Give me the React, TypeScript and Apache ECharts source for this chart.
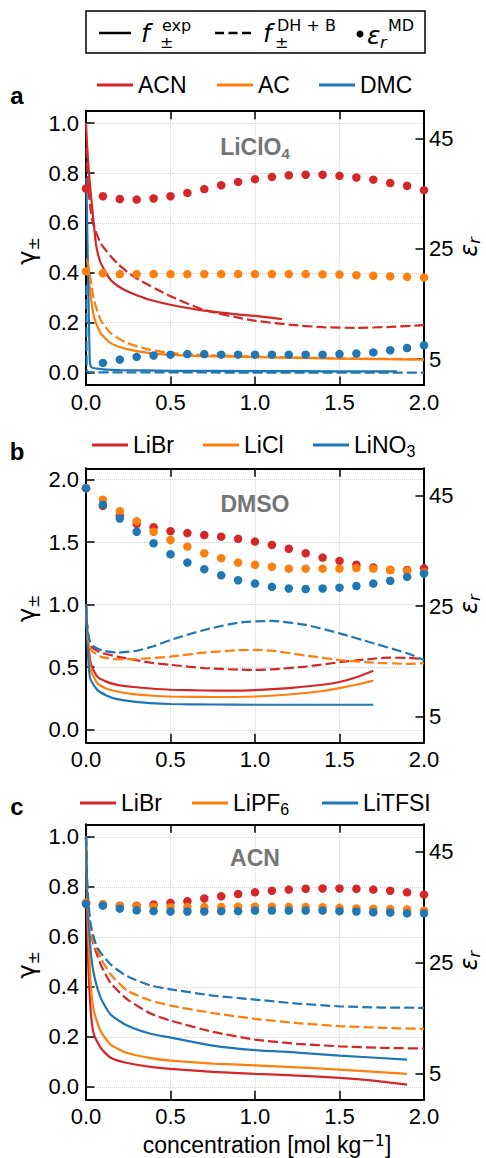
import React, { useEffect, useRef } from 'react';
import * as echarts from 'echarts';

const RED = '#d62728';
const ORANGE = '#ff7f0e';
const BLUE = '#1f77b4';
const COLORS = [RED, ORANGE, BLUE];
const SANS = "'Liberation Sans', Arial, Helvetica, sans-serif";
const MATH = "'DejaVu Sans', sans-serif";

// shared axes
const xTicks = [0, 0.5, 1.0, 1.5, 2.0];
const gammaTicksAC = [0, 0.2, 0.4, 0.6, 0.8, 1.0];
const gammaTicksB = [0, 0.5, 1.0, 1.5, 2.0];
const epsTicks = [5, 25, 45];
const epsX = [0, 0.1, 0.2, 0.3, 0.4, 0.5, 0.6, 0.7, 0.8, 0.9, 1.0, 1.1, 1.2, 1.3, 1.4, 1.5, 1.6, 1.7, 1.8, 1.9, 2.0];

// ---------- panel a : LiClO4 ----------
const aNames = ['ACN', 'AC', 'DMC'];
const aEpsACN = [35.9, 34.5, 34.0, 33.9, 34.1, 34.5, 35.1, 35.8, 36.5, 37.1, 37.6, 38.0, 38.3, 38.4, 38.4, 38.2, 37.9, 37.5, 36.9, 36.4, 35.6];
const aEpsAC = [20.9, 20.55, 20.4, 20.4, 20.4, 20.4, 20.4, 20.4, 20.4, 20.4, 20.4, 20.4, 20.4, 20.4, 20.35, 20.3, 20.2, 20.1, 20.0, 19.9, 19.8];
const aEpsDMC = [null, 4.3, 4.9, 5.4, 5.65, 5.8, 5.9, 5.9, 5.8, 5.8, 5.8, 5.8, 5.8, 5.8, 5.8, 5.9, 6.0, 6.2, 6.6, 7.0, 7.5];
const aExpACN = [[0, 1.0], [0.005, 0.93], [0.015, 0.82], [0.028, 0.72], [0.047, 0.59], [0.06, 0.51], [0.087, 0.44], [0.146, 0.371], [0.2, 0.342], [0.244, 0.326], [0.3, 0.31], [0.382, 0.291], [0.5, 0.272], [0.7, 0.248], [0.93, 0.231], [1.0, 0.227], [1.16, 0.214]];
const aExpAC = [[0.006, 0.46], [0.012, 0.42], [0.028, 0.304], [0.047, 0.224], [0.087, 0.158], [0.146, 0.118], [0.244, 0.094], [0.382, 0.078], [0.5, 0.071], [0.7, 0.066], [1.0, 0.062], [1.5, 0.056], [2.0, 0.052]];
const aExpDMC = [[0.002, 0.78], [0.012, 0.4], [0.022, 0.05], [0.03, 0.022], [0.05, 0.017], [0.1, 0.013], [0.2, 0.01], [0.5, 0.007], [1.0, 0.006], [1.5, 0.005], [1.84, 0.005]];
const aDhACN = [[0.003, 0.9], [0.012, 0.75], [0.037, 0.611], [0.087, 0.518], [0.185, 0.438], [0.284, 0.384], [0.5, 0.306], [0.7, 0.251], [0.97, 0.211], [1.2, 0.192], [1.4, 0.182], [1.6, 0.179], [1.8, 0.183], [2.0, 0.19]];
const aDhAC = [[0.008, 0.45], [0.028, 0.371], [0.047, 0.291], [0.087, 0.211], [0.146, 0.158], [0.244, 0.118], [0.382, 0.091], [0.5, 0.078], [0.7, 0.07], [1.0, 0.064], [1.5, 0.057], [2.0, 0.053]];
const aDhDMC = [[0.002, 0.35], [0.005, 0.005], [0.05, 0.001], [1.0, 0.0], [2.0, 0.0]];

// ---------- panel b : DMSO ----------
const bNames = ['LiBr', 'LiCl', 'LiNO3'];
const bEpsLiBr = [46.4, 43.2, 41.4, 39.9, 39.3, 38.6, 38.25, 37.9, 37.6, 37.2, 36.7, 36.1, 35.4, 34.6, 33.8, 33.2, 32.5, 32.0, 31.55, 31.55, 31.85];
const bEpsLiCl = [46.4, 44.3, 42.2, 40.4, 38.5, 37.0, 35.8, 34.6, 33.7, 32.9, 32.5, 32.15, 31.8, 31.8, 31.8, 31.8, 31.9, 31.8, 31.6, 31.4, 31.1];
const bEpsLiNO3 = [46.4, 43.4, 40.9, 38.5, 36.4, 34.4, 32.9, 31.7, 30.6, 29.7, 29.1, 28.5, 28.2, 28.1, 28.2, 28.35, 28.65, 29.1, 29.6, 30.3, 30.9];
const bExpLiBr = [[0, 1.0], [0.01, 0.75], [0.028, 0.532], [0.067, 0.425], [0.12, 0.385], [0.185, 0.359], [0.28, 0.342], [0.382, 0.33], [0.5, 0.32], [0.7, 0.314], [0.85, 0.313], [1.0, 0.317], [1.2, 0.333], [1.4, 0.36], [1.5, 0.382], [1.6, 0.42], [1.7, 0.472]];
const bExpLiCl = [[0, 1.0], [0.01, 0.7], [0.028, 0.479], [0.067, 0.372], [0.12, 0.33], [0.185, 0.306], [0.28, 0.285], [0.382, 0.274], [0.5, 0.266], [0.75, 0.262], [1.0, 0.266], [1.2, 0.282], [1.4, 0.31], [1.5, 0.333], [1.6, 0.36], [1.7, 0.393]];
const bExpLiNO3 = [[0, 1.0], [0.008, 0.7], [0.02, 0.45], [0.028, 0.399], [0.067, 0.319], [0.12, 0.275], [0.185, 0.245], [0.28, 0.225], [0.382, 0.213], [0.5, 0.206], [0.75, 0.202], [1.0, 0.2], [1.4, 0.2], [1.7, 0.2]];
const bDhLiBr = [[0, 1.0], [0.01, 0.78], [0.03, 0.67], [0.087, 0.617], [0.185, 0.585], [0.382, 0.537], [0.5, 0.519], [0.7, 0.493], [0.9, 0.481], [1.0, 0.479], [1.1, 0.483], [1.3, 0.505], [1.5, 0.54], [1.7, 0.568], [1.8, 0.576], [1.9, 0.575], [2.0, 0.565]];
const bDhLiCl = [[0, 1.0], [0.01, 0.75], [0.03, 0.64], [0.087, 0.585], [0.185, 0.564], [0.3, 0.566], [0.5, 0.585], [0.7, 0.617], [0.9, 0.636], [1.0, 0.638], [1.1, 0.632], [1.3, 0.594], [1.5, 0.558], [1.7, 0.537], [1.9, 0.527], [2.0, 0.532]];
const bDhLiNO3 = [[0, 1.0], [0.005, 0.85], [0.02, 0.72], [0.047, 0.665], [0.1, 0.633], [0.185, 0.617], [0.3, 0.632], [0.4, 0.668], [0.5, 0.718], [0.7, 0.798], [0.9, 0.856], [1.1, 0.87], [1.3, 0.838], [1.5, 0.771], [1.7, 0.692], [1.9, 0.612], [2.0, 0.558]];

// ---------- panel c : ACN ----------
const cNames = ['LiBr', 'LiPF6', 'LiTFSI'];
const cEpsLiBr = [35.8, 35.5, 35.3, 35.3, 35.5, 35.8, 36.1, 36.6, 37.0, 37.4, 37.7, 38.0, 38.2, 38.35, 38.4, 38.4, 38.35, 38.2, 38.0, 37.7, 37.3];
const cEpsLiPF6 = [35.8, 35.55, 35.25, 35.2, 35.1, 35.05, 35.05, 35.05, 35.05, 35.1, 35.1, 35.1, 35.05, 35.05, 35.0, 34.9, 34.8, 34.75, 34.7, 34.6, 34.4];
const cEpsLiTFSI = [35.6, 35.3, 34.75, 34.45, 34.3, 34.25, 34.25, 34.25, 34.3, 34.3, 34.4, 34.4, 34.4, 34.4, 34.4, 34.3, 34.25, 34.1, 34.05, 33.9, 33.9];
const cExpLiBr = [[0, 1.0], [0.005, 0.75], [0.012, 0.516], [0.028, 0.302], [0.047, 0.209], [0.087, 0.156], [0.146, 0.116], [0.244, 0.095], [0.382, 0.08], [0.5, 0.072], [0.75, 0.06], [1.0, 0.052], [1.25, 0.045], [1.5, 0.036], [1.7, 0.025], [1.9, 0.009]];
const cExpLiPF6 = [[0, 1.0], [0.005, 0.8], [0.012, 0.649], [0.028, 0.409], [0.047, 0.302], [0.087, 0.222], [0.146, 0.169], [0.244, 0.135], [0.382, 0.115], [0.5, 0.105], [0.75, 0.093], [1.0, 0.086], [1.25, 0.078], [1.5, 0.069], [1.9, 0.052]];
const cExpLiTFSI = [[0, 1.0], [0.008, 0.75], [0.028, 0.542], [0.047, 0.449], [0.087, 0.356], [0.146, 0.289], [0.244, 0.245], [0.382, 0.212], [0.5, 0.197], [0.75, 0.165], [1.0, 0.147], [1.25, 0.137], [1.5, 0.125], [1.9, 0.109]];
const cDhLiBr = [[0, 1.0], [0.01, 0.75], [0.037, 0.589], [0.087, 0.489], [0.146, 0.415], [0.244, 0.35], [0.382, 0.293], [0.5, 0.265], [0.75, 0.22], [1.0, 0.189], [1.25, 0.172], [1.5, 0.162], [1.75, 0.156], [2.0, 0.153]];
const cDhLiPF6 = [[0, 1.0], [0.01, 0.75], [0.037, 0.596], [0.087, 0.516], [0.146, 0.449], [0.244, 0.385], [0.382, 0.345], [0.5, 0.325], [0.75, 0.295], [1.0, 0.272], [1.25, 0.255], [1.5, 0.243], [1.75, 0.236], [2.0, 0.232]];
const cDhLiTFSI = [[0, 1.0], [0.008, 0.8], [0.028, 0.649], [0.067, 0.556], [0.146, 0.489], [0.244, 0.442], [0.382, 0.405], [0.5, 0.39], [0.75, 0.365], [1.0, 0.349], [1.25, 0.333], [1.5, 0.322], [1.75, 0.317], [2.0, 0.316]];

const panels = [
  {
    top: 110.7, height: 274.3, gMin: -0.05, gMax: 1.05, gTicks: gammaTicksAC,
    names: aNames, exp: [aExpACN, aExpAC, aExpDMC], dh: [aDhACN, aDhAC, aDhDMC], eps: [aEpsACN, aEpsAC, aEpsDMC],
    legendLeft: [97, 217, 319], legendY: 85, title: '{b|LiClO}{s|4}', titleY: 147, letter: 'a', letterY: 95,
  },
  {
    top: 468.3, height: 274, gMin: -0.1, gMax: 2.09, gTicks: gammaTicksB,
    names: bNames, exp: [bExpLiBr, bExpLiCl, bExpLiNO3], dh: [bDhLiBr, bDhLiCl, bDhLiNO3], eps: [bEpsLiBr, bEpsLiCl, bEpsLiNO3],
    legendLeft: [92, 203, 313], legendY: 445, title: '{b|DMSO}', titleY: 503.5, letter: 'b', letterY: 451.6,
  },
  {
    top: 824.3, height: 275, gMin: -0.05, gMax: 1.05, gTicks: gammaTicksAC,
    names: cNames, exp: [cExpLiBr, cExpLiPF6, cExpLiTFSI], dh: [cDhLiBr, cDhLiPF6, cDhLiTFSI], eps: [cEpsLiBr, cEpsLiPF6, cEpsLiTFSI],
    legendLeft: [80, 192, 322], legendY: 803, title: '{b|ACN}', titleY: 858, letter: 'c', letterY: 806.6,
  },
];

const GRID_LEFT = 86;
const GRID_W = 338;
const EPS_MIN = 0.3;
const EPS_MAX = 50;

function legendFormatter(name: string) {
  if (name === 'LiNO3') return '{n|LiNO}{s|3}';
  if (name === 'LiPF6') return '{n|LiPF}{s|6}';
  return `{n|${name}}`;
}

function buildOption() {
  const grid: any[] = [];
  const xAxis: any[] = [];
  const yAxis: any[] = [];
  const series: any[] = [];
  const legend: any[] = [];
  const graphic: any[] = [];

  const axisLine = { show: true, onZero: false, lineStyle: { color: '#000', width: 2 } };
  const tickStyle = { color: '#000', width: 1.5 };
  const split = { show: true, lineStyle: { color: '#d4d4d4', type: 'dotted', width: 1 } };
  const labelFont = { fontSize: 22, fontFamily: SANS, color: '#000' };

  panels.forEach((p, i) => {
    grid.push({ left: GRID_LEFT, top: p.top, width: GRID_W, height: p.height });
    xAxis.push({
      gridIndex: i, type: 'value', min: 0, max: 2, interval: 0.5, position: 'bottom',
      axisLine, axisTick: { inside: true, length: 8.5, lineStyle: tickStyle },
      axisLabel: { ...labelFont, margin: 6, formatter: (v: number) => v.toFixed(1), customValues: xTicks },
      splitLine: split,
    });
    xAxis.push({
      gridIndex: i, type: 'value', min: 0, max: 2, interval: 0.5, position: 'top',
      axisLine, axisTick: { inside: true, length: 8.5, lineStyle: tickStyle },
      axisLabel: { show: false }, splitLine: { show: false },
    });
    yAxis.push({
      gridIndex: i, type: 'value', min: p.gMin, max: p.gMax, position: 'left',
      axisLine, axisTick: { inside: true, length: 8.5, lineStyle: tickStyle, customValues: p.gTicks },
      axisLabel: { ...labelFont, margin: 7, formatter: (v: number) => v.toFixed(1), customValues: p.gTicks },
      splitLine: split,
    });
    yAxis.push({
      gridIndex: i, type: 'value', min: EPS_MIN, max: EPS_MAX, position: 'right',
      axisLine, axisTick: { inside: true, length: 8.5, lineStyle: tickStyle, customValues: epsTicks },
      axisLabel: { ...labelFont, margin: 5, customValues: epsTicks },
      splitLine: { show: false },
    });

    p.names.forEach((name, k) => {
      series.push({
        type: 'line', name, xAxisIndex: 2 * i, yAxisIndex: 2 * i, data: p.exp[k],
        showSymbol: false, symbol: 'none', smooth: 0.2, z: 2,
        lineStyle: { color: COLORS[k], width: 2.2 }, itemStyle: { color: COLORS[k] },
      });
    });
    p.names.forEach((name, k) => {
      series.push({
        type: 'line', name: name + ' DH+B', xAxisIndex: 2 * i, yAxisIndex: 2 * i, data: p.dh[k],
        showSymbol: false, symbol: 'none', smooth: 0.2, z: 2,
        lineStyle: { color: COLORS[k], width: 2.2, type: [10, 4] }, itemStyle: { color: COLORS[k] },
      });
    });
    p.names.forEach((name, k) => {
      const pts = epsX.map((x, j) => [x, p.eps[k][j]]).filter((q) => q[1] != null);
      series.push({
        type: 'scatter', name: name + ' MD', xAxisIndex: 2 * i, yAxisIndex: 2 * i + 1, data: pts,
        symbolSize: 8.5, z: 3, itemStyle: { color: COLORS[k], opacity: 1 },
      });
    });

    p.names.forEach((name, k) => {
      legend.push({
        left: p.legendLeft[k], top: p.legendY - 14, padding: 0, orient: 'horizontal',
        itemWidth: 36, itemHeight: 3, icon: 'rect', selectedMode: false,
        data: [{ name, itemStyle: { color: COLORS[k] } }],
        formatter: legendFormatter,
        textStyle: {
          fontSize: 23, fontFamily: SANS, color: '#000', lineHeight: 28,
          rich: {
            n: { fontSize: 23, fontFamily: SANS, color: '#000', lineHeight: 28, verticalAlign: 'middle' },
            s: { fontSize: 16, fontFamily: SANS, color: '#000', lineHeight: 16, verticalAlign: 'bottom' },
          },
        },
      });
    });

    const cy = p.top + p.height / 2;
    graphic.push({
      type: 'text', x: 255, y: p.titleY, z: 10,
      style: {
        text: p.title, align: 'center', verticalAlign: 'middle',
        rich: {
          b: { fontSize: 23, fontWeight: 'bold', fontFamily: SANS, fill: '#757575', lineHeight: 28, verticalAlign: 'middle' },
          s: { fontSize: 15, fontWeight: 'bold', fontFamily: SANS, fill: '#757575', lineHeight: 21, verticalAlign: 'bottom' },
        },
      },
    });
    graphic.push({
      type: 'text', x: 17, y: p.letterY,
      style: { text: p.letter, align: 'center', verticalAlign: 'middle', fontSize: 24, fontWeight: 'bold', fontFamily: SANS, fill: '#000' },
    });
    graphic.push({
      type: 'text', x: 27, y: cy + 3, rotation: Math.PI / 2,
      style: {
        text: '{g|γ}{s|±}', align: 'center', verticalAlign: 'middle',
        rich: {
          g: { fontSize: 24, fontFamily: MATH, fill: '#000', lineHeight: 28, verticalAlign: 'middle' },
          s: { fontSize: 16, fontFamily: MATH, fill: '#000', lineHeight: 16, verticalAlign: 'bottom' },
        },
      },
    });
    graphic.push({
      type: 'text', x: 469, y: cy - 1, rotation: Math.PI / 2,
      style: {
        text: '{e|ε}{r|r}', align: 'center', verticalAlign: 'middle',
        rich: {
          e: { fontSize: 24, fontFamily: MATH, fontStyle: 'italic', fill: '#000', lineHeight: 26, verticalAlign: 'middle' },
          r: { fontSize: 16, fontFamily: MATH, fontStyle: 'italic', fill: '#000', lineHeight: 16, verticalAlign: 'bottom' },
        },
      },
    });
  });

  // x-axis name
  graphic.push({
    type: 'text', x: 267, y: 1145,
    style: {
      text: '{t|concentration [mol kg}{p|−1}{t|]}', align: 'center', verticalAlign: 'middle',
      rich: {
        t: { fontSize: 23, fontFamily: SANS, fill: '#000', lineHeight: 25, verticalAlign: 'middle' },
        p: { fontSize: 16, fontFamily: MATH, fill: '#000', lineHeight: 12, verticalAlign: 'top' },
      },
    },
  });

  // top legend box
  const mainMath = { fontSize: 25, fontFamily: MATH, fontStyle: 'italic', fill: '#000' };
  const smallMath = { fontSize: 16, fontFamily: MATH, fill: '#000' };
  graphic.push(
    { type: 'rect', shape: { x: 86, y: 11, width: 339, height: 42 }, style: { fill: '#fff', stroke: '#000', lineWidth: 1.5 } },
    { type: 'line', shape: { x1: 99, y1: 33, x2: 131, y2: 33 }, style: { stroke: '#000', lineWidth: 2.5 } },
    { type: 'text', x: 141, y: 33, style: { ...mainMath, text: 'f', verticalAlign: 'middle' } },
    { type: 'text', x: 162, y: 25, style: { ...smallMath, text: 'exp', verticalAlign: 'middle' } },
    { type: 'text', x: 160, y: 42, style: { ...smallMath, text: '±', verticalAlign: 'middle' } },
    { type: 'line', shape: { x1: 215, y1: 33, x2: 252, y2: 33 }, style: { stroke: '#000', lineWidth: 2.5, lineDash: [9, 4.5] } },
    { type: 'text', x: 263, y: 33, style: { ...mainMath, text: 'f', verticalAlign: 'middle' } },
    { type: 'text', x: 277, y: 25, style: { ...smallMath, text: 'DH + B', verticalAlign: 'middle' } },
    { type: 'text', x: 275, y: 42, style: { ...smallMath, text: '±', verticalAlign: 'middle' } },
    { type: 'circle', shape: { cx: 360, cy: 34, r: 3.5 }, style: { fill: '#000' } },
    { type: 'text', x: 367, y: 35, style: { ...mainMath, text: 'ε', verticalAlign: 'middle' } },
    { type: 'text', x: 380, y: 42, style: { ...smallMath, fontStyle: 'italic', text: 'r', verticalAlign: 'middle' } },
    { type: 'text', x: 388, y: 25, style: { ...smallMath, text: 'MD', verticalAlign: 'middle' } },
  );

  return {
    animation: false,
    backgroundColor: '#fff',
    grid, xAxis, yAxis, series, legend, graphic,
  };
}

export default function App() {
  const ref = useRef<HTMLDivElement>(null);
  useEffect(() => {
    document.body.style.margin = '0';
    const chart = echarts.init(ref.current as HTMLDivElement, null, { renderer: 'svg' });
    chart.setOption(buildOption() as any);
    return () => chart.dispose();
  }, []);
  return <div ref={ref} style={{ width: 486, height: 1158 }} />;
}
